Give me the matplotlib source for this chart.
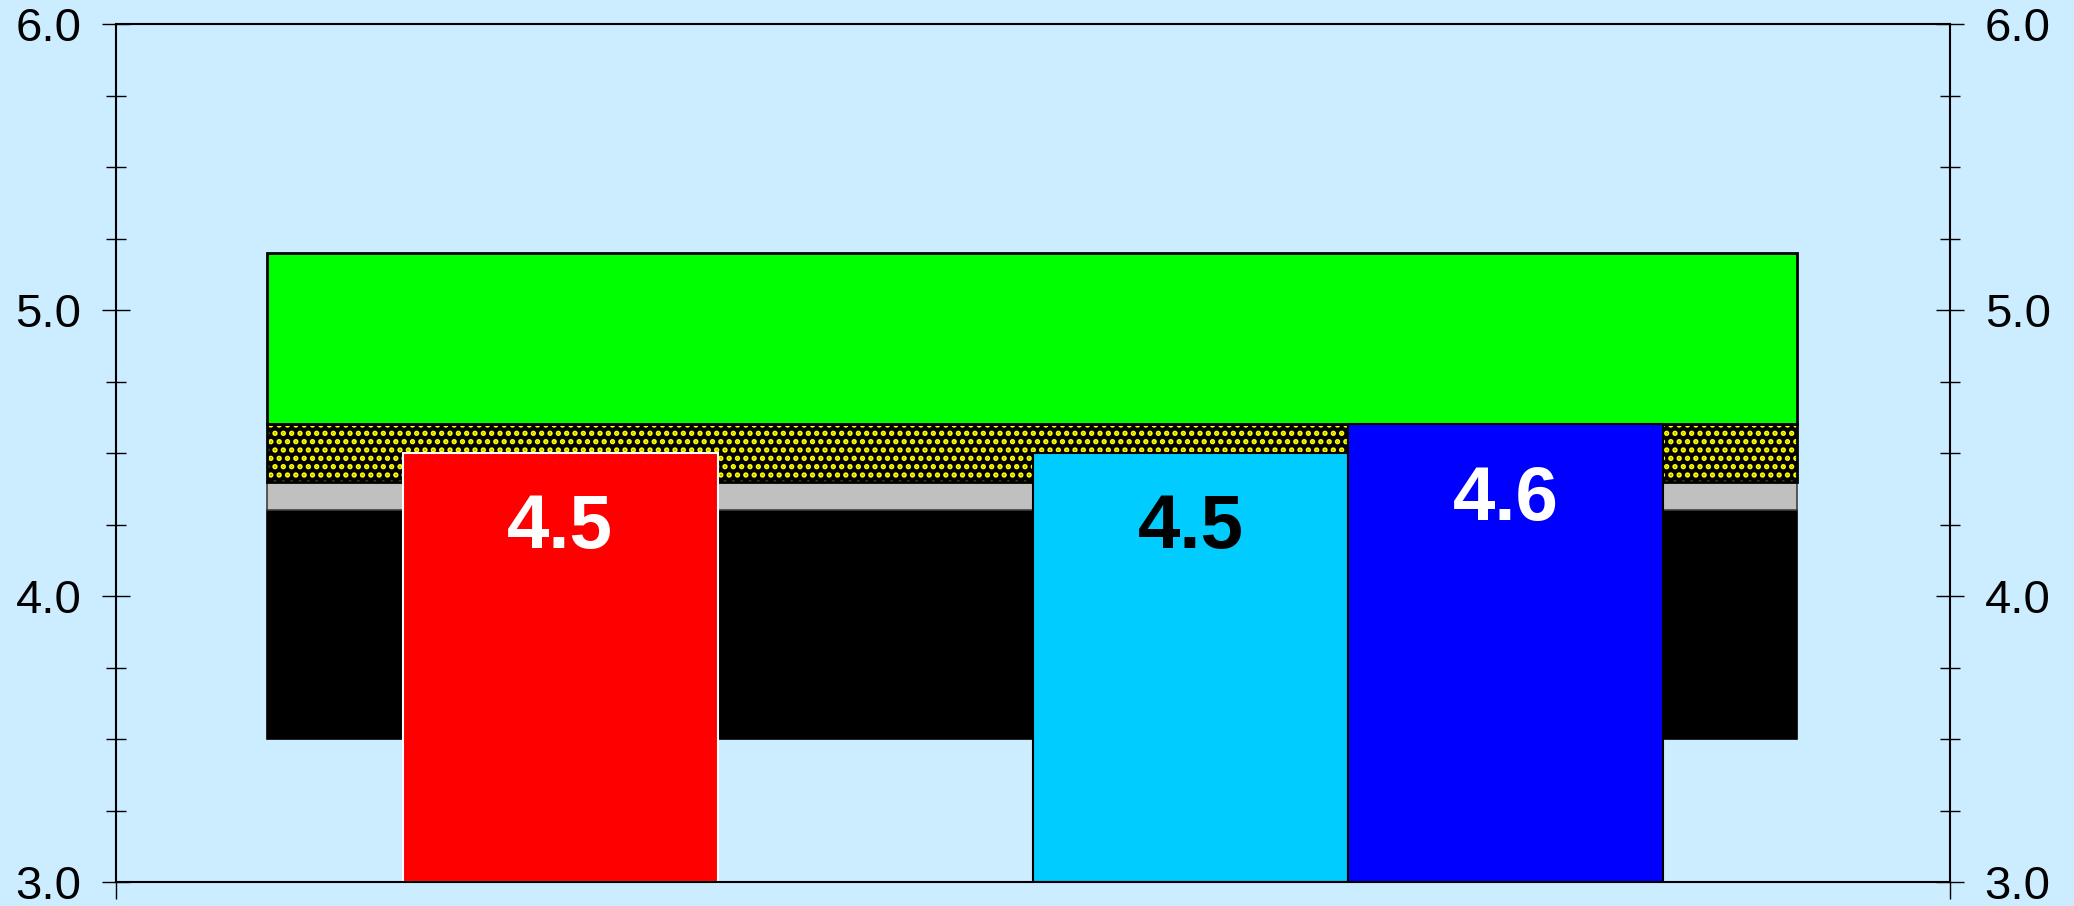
import matplotlib.pyplot as plt
import numpy as np

plt.rcParams['font.family'] = ['Liberation Sans', 'DejaVu Sans']
plt.rcParams['hatch.linewidth'] = 2.6

# background bands: (bottom, top, colour)
band_bottoms = [3.5, 4.3, 4.4, 4.6]
band_tops = [4.3, 4.4, 4.6, 5.2]
band_colors = ['#000000', '#C0C0C0', '#000000', '#00FF00']
band_hatches = [None, None, '..', None]

# bars in a group of four slots (slot 2 is empty)
bar_slots = [0, 2, 3]
bar_values = [4.5, 4.5, 4.6]
bar_colors = ['#FF0000', '#00CCFF', '#0000FF']
bar_edges = ['white', 'black', 'black']
label_colors = ['white', 'black', 'white']

bg = '#CCECFF'
fig = plt.figure(figsize=(20.74, 9.06), dpi=100, facecolor=bg)
ax = fig.add_axes([116/2074, 1-882/906, (1950-116)/2074, (882-24)/906])
ax.set_facecolor(bg)

ymin, ymax = 3.0, 6.0
half = 2.91
ax.set_xlim(-half, half)
ax.set_ylim(ymin, ymax)

# bands
band_w = 4.855
band_x = -0.004
for b, t, c, h in zip(band_bottoms, band_tops, band_colors, band_hatches):
    if h:
        ax.bar(band_x, t - b, bottom=b, width=band_w, color=c, hatch=h,
               edgecolor='#FFFF00', linewidth=0, zorder=1)
        ax.bar(band_x, t - b, bottom=b, width=band_w, fill=False,
               edgecolor='black', linewidth=2, zorder=1.1)
    else:
        ax.bar(band_x, t - b, bottom=b, width=band_w, color=c,
               edgecolor='black' if c != '#C0C0C0' else '#404040',
               linewidth=2 if c == '#00FF00' else 1.2, zorder=1)

# bars
pos = np.array(bar_slots) - 1.5
for x, v, c, e, lc in zip(pos, bar_values, bar_colors, bar_edges, label_colors):
    ax.bar(x, v - ymin, bottom=ymin, width=1.0, color=c, edgecolor=e,
           linewidth=1.5, zorder=3)
    ax.text(x, v - 0.265, f'{v:.1f}', ha='center', va='center', color=lc,
            fontsize=55, fontweight='bold', zorder=4)

# axes styling
for s in ax.spines.values():
    s.set_linewidth(1.5)
    s.set_zorder(5)
ax.set_yticks(np.arange(3.0, 6.01, 1.0))
ax.set_yticks(np.arange(3.0, 6.01, 0.25), minor=True)
ax.set_yticklabels([f'{t:.1f}' for t in np.arange(3.0, 6.01, 1.0)])
ax.yaxis.set_ticks_position('both')
ax.tick_params(axis='y', which='major', direction='inout', length=20,
               width=1, labelsize=34, pad=15, labelright=True)
ax.tick_params(axis='y', which='minor', direction='inout', length=14, width=1)
ax.set_xticks([-half, half])
ax.set_xticklabels([])
ax.tick_params(axis='x', direction='out', length=12, width=1)

fig.savefig('out.png', dpi=100, facecolor=bg)
